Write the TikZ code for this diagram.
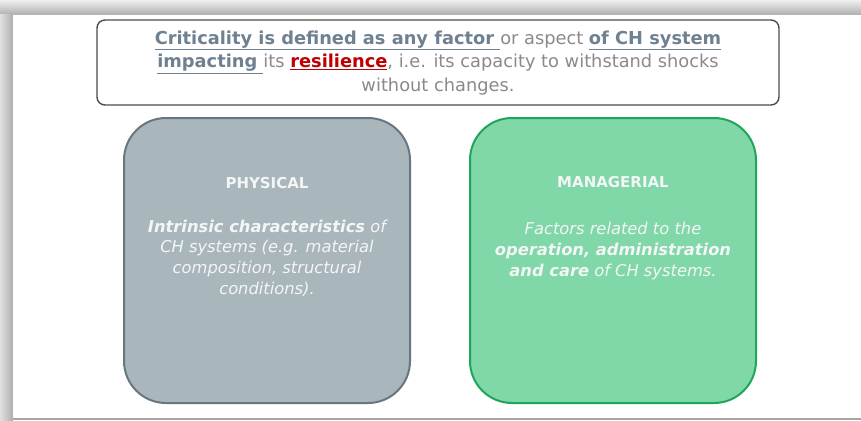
\documentclass[tikz,border=0pt]{standalone}
\usepackage{fontspec}
\setmainfont{DejaVu Sans}
\usetikzlibrary{positioning}
\definecolor{slate}{HTML}{6F8190}
\definecolor{txtgray}{HTML}{8A8A8A}
\definecolor{redx}{HTML}{C00000}
\definecolor{physfill}{HTML}{A9B6BC}
\definecolor{physline}{HTML}{6A767E}
\definecolor{manfill}{HTML}{80D7A7}
\definecolor{manline}{HTML}{1FA65A}
\definecolor{boxtext}{HTML}{F4F6F6}
\tikzset{
  x=1pt, y=-1pt,
  headbox/.style={draw=black!70, line width=1.4pt, rounded corners=8pt, fill=white},
  catbox/.style={line width=2pt, rounded corners=42pt},
  cattitle/.style={text=boxtext, font=\fontsize{15}{17}\selectfont\bfseries},
  catbody/.style={text=boxtext, font=\fontsize{16.3}{20.7}\selectfont\itshape, align=center},
}
\newcommand{\ul}[1]{\underline{#1}}
\begin{document}
\begin{tikzpicture}
\useasboundingbox (0,0) rectangle (861,420);
% page shadow
\shade[top color=white!94!black, bottom color=white!68!black] (0,0) rectangle (861,15);
\shade[left color=white!88!black, right color=white!68!black] (0,15) rectangle (13,420);
\fill[white] (13,15) rectangle (861,418);
\fill[white!65!black] (13,418) rectangle (861,420);
% header box
\draw[headbox] (97,20) rectangle (779,105);
\node[text=txtgray, align=center, font=\fontsize{17.8}{23.5}\selectfont] (head) at (438,63)
{\color{slate}\ul{\textbf{Criticality is defined as any factor }}\color{txtgray} or aspect \color{slate}\ul{\textbf{of CH system}}\\
\color{slate}\ul{\textbf{impacting }}\color{txtgray}its \color{redx}\ul{\textbf{resilience}}\color{txtgray}, i.e. its capacity to withstand shocks\\
without changes.};
% physical box
\draw[catbox, draw=physline, fill=physfill] (124,118) rectangle (410,403);
\node[cattitle] (phys) at (267,183) {PHYSICAL};
\node[catbody] (physbody) at (267,258) {\textbf{Intrinsic characteristics} of\\ CH systems (e.g. material\\ composition, structural\\ conditions).};
% managerial box
\draw[catbox, draw=manline, fill=manfill] (470,118) rectangle (756,403);
\node[cattitle] (man) at (613,182) {MANAGERIAL};
\node[catbody] (manbody) at (613,251) {Factors related to the\\ \textbf{operation, administration}\\ \textbf{and care} of CH systems.};
\end{tikzpicture}
\end{document}
